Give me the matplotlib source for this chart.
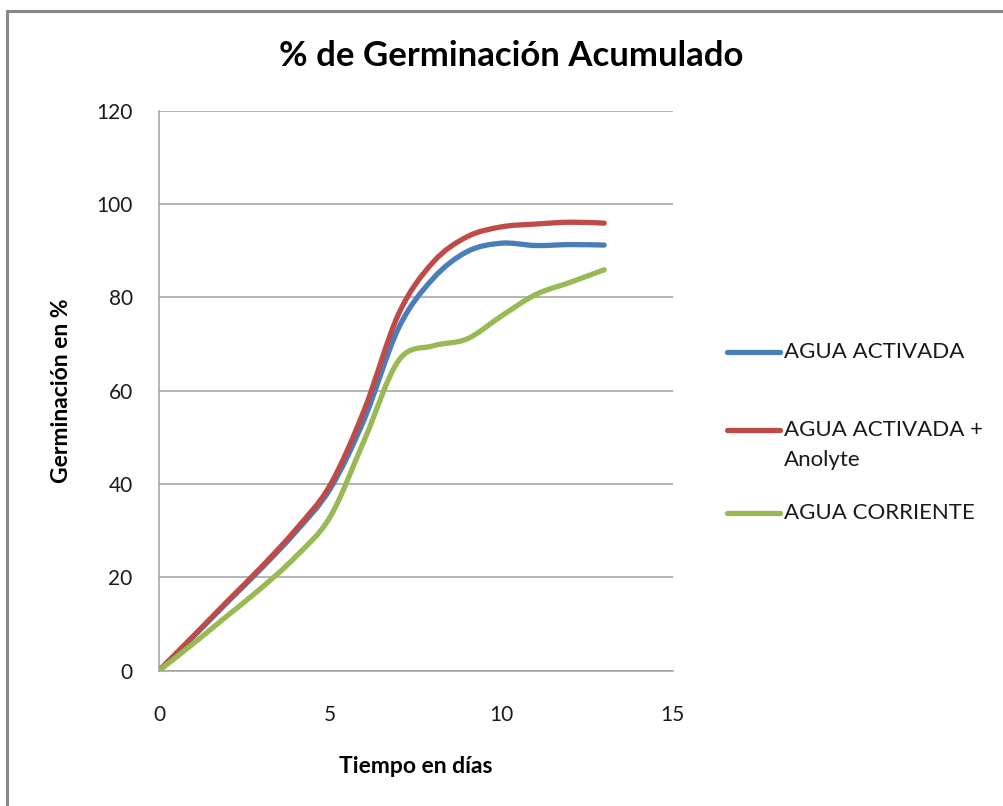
import numpy as np
import matplotlib
matplotlib.use('Agg')
from matplotlib import pyplot as plt
from matplotlib.path import Path
from matplotlib.patches import PathPatch, Rectangle
from matplotlib.lines import Line2D

plt.rcParams['font.family'] = ['Lato', 'DejaVu Sans']

# datos
dias = [0, 1, 2, 3, 4, 5, 6, 7, 8, 9, 10, 11, 12, 13]
agua_activada = [0, 7.3, 14.7, 22, 29.8, 39, 54, 73.5, 84, 89.8, 91.6, 91.1, 91.3, 91.2]
agua_anolyte = [0, 7.4, 14.9, 22.3, 30.3, 39.8, 56, 76.5, 87.5, 93, 95.1, 95.7, 96.1, 95.9]
agua_corriente = [0, 5.8, 11.8, 17.8, 24.5, 33, 49.5, 66.5, 69.6, 71.1, 76, 80.6, 83.2, 85.9]

series = [('AGUA ACTIVADA', agua_activada, '#4A7EBB'),
          ('AGUA ACTIVADA +\nAnolyte', agua_anolyte, '#BE4B48'),
          ('AGUA CORRIENTE', agua_corriente, '#98B954')]

y_ticks = [0, 20, 40, 60, 80, 100, 120]
x_ticks = [0, 5, 10, 15]


def smooth_path(x, y):
    """Curva suave estilo Excel (Bezier tipo Catmull-Rom)."""
    p = np.column_stack([x, y]).astype(float)
    ext = np.vstack([p[0], p, p[-1]])
    verts = [p[0]]
    codes = [Path.MOVETO]
    for i in range(len(p) - 1):
        p0, p1, p2, p3 = ext[i], ext[i + 1], ext[i + 2], ext[i + 3]
        c1 = p1 + (p2 - p0) / 6.0
        c2 = p2 - (p3 - p1) / 6.0
        verts += [c1, c2, p2]
        codes += [Path.CURVE4] * 3
    return Path(verts, codes)


fig = plt.figure(figsize=(10.04, 8.06), dpi=100)
ax = fig.add_axes([0.1584, 0.1679, 0.5116, 0.6948])

for name, vals, color in series:
    patch = PathPatch(smooth_path(dias, vals), facecolor='none', edgecolor=color,
                      lw=3.8, capstyle='round', joinstyle='round', zorder=3)
    ax.add_patch(patch)

ax.set_xlim(0, 15)
ax.set_ylim(0, 120)
ax.set_xticks(x_ticks)
ax.set_yticks(y_ticks)
ax.tick_params(length=0, labelsize=15, colors='#1a1a1a')
ax.tick_params(axis='y', pad=19)
ax.tick_params(axis='x', pad=25)
ax.grid(axis='y', color='#a0a0a0', lw=1.1)
ax.set_axisbelow(True)
for s in ['top', 'right']:
    ax.spines[s].set_visible(False)
for s in ['left', 'bottom']:
    ax.spines[s].set_color('#a0a0a0')
    ax.spines[s].set_linewidth(1.1)

ax.set_xlabel('Tiempo en días', fontsize=16.5, fontweight='bold', va='center')
ax.set_ylabel('Germinación en %', fontsize=16.5, fontweight='bold', va='center')
ax.xaxis.set_label_coords(0.499, -0.172)
ax.yaxis.set_label_coords(-0.19, 0.5)
fig.text(0.509, 0.931, '% de Germinación Acumulado', fontsize=25, fontweight='bold',
         ha='center', va='center')

# leyenda manual (linea alineada con la primera linea del texto)
leg_y = [0.563, 0.466, 0.363]
for (name, vals, color), yy in zip(series, leg_y):
    fig.add_artist(Line2D([0.724, 0.777], [yy, yy], color=color, lw=3.8,
                          solid_capstyle='round', transform=fig.transFigure))
    fig.text(0.781, yy + 0.013, name, fontsize=16, ha='left', va='top',
             linespacing=1.6, color='#1a1a1a')

# borde del area del grafico
fig.add_artist(Rectangle((0.007, -0.05), 1.1, 0.0363 + 1.0, transform=fig.transFigure,
                         facecolor='none', edgecolor='#878787', lw=2.2))

fig.savefig('out.png', dpi=100)
